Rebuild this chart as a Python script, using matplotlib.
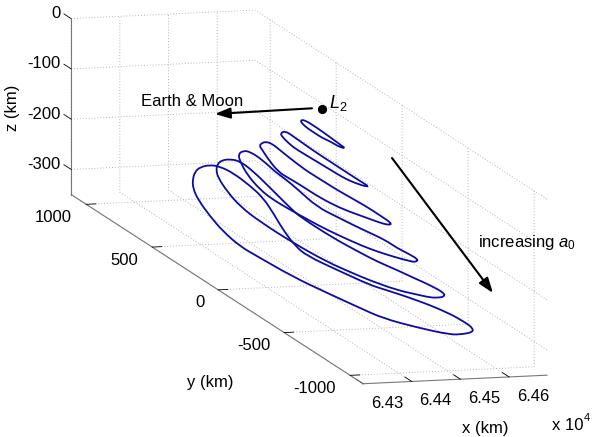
import matplotlib
matplotlib.use('Agg')
import matplotlib.pyplot as plt
from matplotlib.path import Path
from matplotlib.patches import PathPatch
from mpl_toolkits.mplot3d import proj3d

W, H = 592, 437

# tick values (km)
x_ticks = [64300, 64400, 64500, 64600]
x_labels = ['6.43', '6.44', '6.45', '6.46']
y_ticks = [-1000, -500, 0, 500, 1000]
y_labels = ['-1000', '-500', '0', '500', '1000']
z_ticks = [-300, -200, -100, 0]
z_labels = ['-300', '-200', '-100', '0']

# L2 point
l2_x, l2_y, l2_z = 64513, 0, 0

# orbits, smallest to largest: one x per orbit, y and z
orbit_x = [64514, 64518, 64521, 64526, 64530, 64534]

orbit1_y = [167, 136, 68, 0, -98, -152, -174, -129, -61, 0, 53, 106, 152]
orbit1_z = [-50.9, -44.8, -44.2, -44.9, -46.8, -48.3, -48.4, -53.5, -54.2, -57.5, -57.5, -57.5, -55.3]

orbit2_y = [333, 295, 220, 144, 68, -83, -159, -235, -295, -337, -303, -258, -197, -136, -61, 15, 91, 167, 227, 273, 318]
orbit2_z = [-105.2, -93.8, -94.9, -96.0, -97.1, -97.2, -97.3, -97.4, -97.1, -97.0, -101.8, -105.5, -109.8, -112.1,
            -113.0, -113.9, -114.8, -115.7, -116.1, -113.8, -109.6]

orbit3_y = [504, 481, 451, 405, 345, 284, 155, 95, 4, -87, -201, -314, -413, -504, -474, -398, -314, -208, -110, 42,
            193, 284, 360, 443, 481]
orbit3_z = [-159.1, -149.3, -142.2, -138.5, -141.1, -143.8, -147.8, -147.5, -147.0, -146.5, -144.1, -141.8, -142.0,
            -142.5, -150.6, -157.5, -163.7, -171.7, -178.5, -184.2, -184.1, -185.5, -186.5, -172.7, -163.3]

orbit4_y = [682, 644, 591, 500, 402, 326, 227, 83, -68, -197, -318, -432, -523, -606, -686, -659, -621, -545, -432,
            -318, -182, 8, 136, 288, 417, 515, 614, 667]
orbit4_z = [-206.4, -193.0, -186.0, -186.5, -193.7, -194.8, -200.0, -209.4, -203.6, -198.7, -193.0, -187.7, -188.2,
            -185.0, -183.5, -192.9, -197.4, -205.3, -215.6, -224.9, -233.1, -242.3, -246.2, -250.0, -252.0, -248.8,
            -235.6, -218.2]

orbit5_y = [864, 852, 818, 758, 682, 583, 455, 303, 227, -23, -205, -356, -508, -636, -758, -867, -864, -818,
            -758, -644, -508, -303, -152, 23, 280, 530, 682, 780, 849]
orbit5_z = [-268.3, -254.4, -241.6, -229.4, -220.5, -223.7, -234.7, -248.8, -253.9, -253.3, -248.3, -243.5, -234.7,
            -228.8, -222.2, -219.5, -227.1, -236.8, -246.7, -259.3, -274.5, -290.3, -299.1, -308.7, -314.6, -315.2,
            -310.4, -297.3, -281.6]

orbit6_y = [1057, 1038, 1000, 924, 849, 750, 621, 523, 447, 371, 280, 189, -38, -288, -386, -644, -871, -1008, -1068,
            -1064, -985, -894, -644, -386, -212, 38, 295, 561, 697, 826, 924, 1015, 1053]
orbit6_z = [-321.1, -302.0, -286.6, -269.2, -259.9, -255.7, -259.2, -266.4, -283.3, -304.3, -320.7, -325.2, -314.5,
            -302.0, -293.2, -271.5, -256.8, -253.6, -255.3, -263.9, -281.3, -297.7, -325.8, -351.5, -360.6, -373.1,
            -384.9, -390.1, -392.7, -384.7, -371.6, -353.8, -338.3]

orbits_y = [orbit1_y, orbit2_y, orbit3_y, orbit4_y, orbit5_y, orbit6_y]
orbits_z = [orbit1_z, orbit2_z, orbit3_z, orbit4_z, orbit5_z, orbit6_z]

plt.rcParams['font.family'] = 'Liberation Sans'
plt.rcParams['mathtext.fontset'] = 'custom'
plt.rcParams['mathtext.rm'] = 'Liberation Sans'
plt.rcParams['mathtext.it'] = 'Liberation Sans:italic'
plt.rcParams['font.size'] = 12
plt.rcParams['grid.color'] = '#b4b4b4'
plt.rcParams['grid.linestyle'] = (0, (1, 2))
plt.rcParams['grid.linewidth'] = 0.7


def fig_pos(px, py):
    # picture pixels (y down) to figure fractions
    return px / W, 1 - py / H


fig = plt.figure(figsize=(W / 100, H / 100), dpi=100)
ax = fig.add_axes([1 / W, -68 / H, 600 / W, 600 / H], projection='3d')
ax.set_proj_type('ortho')
ax.view_init(elev=10, azim=-105)
ax.set_box_aspect((190.5, 1128, 178.7), zoom=1.873)
ax.set_xlim(64300, 64678)
ax.set_ylim(-1098, 1114)
ax.set_zlim(-350, 0)
ax.set_xticks(x_ticks)
ax.set_yticks(y_ticks)
ax.set_zticks(z_ticks)
ax.set_xticklabels([])
ax.set_yticklabels([])
ax.set_zticklabels([])

# ticks of the z axis lie along y, as in the reference
ax.zaxis._get_tickdir = lambda pos: 1

for axis, out in ((ax.xaxis, 0.29), (ax.yaxis, 0.65), (ax.zaxis, 0.31)):
    axis.set_pane_color((1, 1, 1, 0))
    axis.pane.set_edgecolor((1, 1, 1, 0))
    axis.line.set_color('#777777')
    axis.line.set_linewidth(0.8)
    axis._axinfo['tick']['inward_factor'] = 0.0
    axis._axinfo['tick']['outward_factor'] = out
    axis._axinfo['tick']['color'] = '#555555'
    axis._axinfo['tick']['linewidth'] = {True: 0.6, False: 0.6}

ax.plot([l2_x], [l2_y], [l2_z], 'o', color='black', ms=5.6)

M = ax.get_proj()

# each orbit is a closed smooth path with the read points as control points
for x0, ys, zs in zip(orbit_x, orbits_y, orbits_z):
    u, v, _ = proj3d.proj_transform([x0] * len(ys), ys, zs, M)
    n = len(ys)
    verts = [((u[-1] + u[0]) / 2, (v[-1] + v[0]) / 2)]
    codes = [Path.MOVETO]
    for i in range(n):
        j = (i + 1) % n
        verts += [(u[i], v[i]), ((u[i] + u[j]) / 2, (v[i] + v[j]) / 2)]
        codes += [Path.CURVE3, Path.CURVE3]
    fig.add_artist(PathPatch(Path(verts, codes), fc='none', ec='#0c0ca4', lw=1.3, transform=ax.transData))


def tick_text(x, y, z, s, dx, dy, ha):
    # tick label placed from the tick's projected position
    u, v, _ = proj3d.proj_transform(x, y, z, M)
    ax.annotate(s, (u, v), xytext=(dx, -dy), textcoords='offset pixels', ha=ha, va='center', annotation_clip=False)


for t, s in zip(x_ticks, x_labels):
    tick_text(t, -1098, -350, s, 24, 19.5, 'center')
for t, s in zip(y_ticks, y_labels):
    tick_text(64300, t, -350, s, -14, 13, 'right')
for t, s in zip(z_ticks, z_labels):
    tick_text(64300, 1114, t, s, -11, -5, 'right')

# axis labels
fig.text(*fig_pos(13, 108), 'z (km)', rotation=90, ha='center', va='center')
fig.text(*fig_pos(210, 383), 'y (km)', ha='center', va='center')
fig.text(*fig_pos(485, 428), 'x (km)', ha='center', va='center')
fig.text(*fig_pos(552, 426), 'x 10', ha='left', va='center')
fig.text(*fig_pos(584, 418), '4', ha='left', va='center', fontsize=8)

# annotations
fig.text(*fig_pos(141, 101), 'Earth & Moon', ha='left', va='center')
fig.text(*fig_pos(329, 103), r'$\mathit{L}_{2}$', ha='left', va='center', fontsize=13)
fig.text(*fig_pos(478, 243), r'increasing $\mathit{a}_{0}$', ha='left', va='center')

for tail, tip in [((312, 108.3), (215, 114)), ((392, 158), (493, 293))]:
    ax.annotate('', xy=(tip[0], H - tip[1]), xytext=(tail[0], H - tail[1]),
                xycoords='figure pixels', textcoords='figure pixels',
                arrowprops=dict(arrowstyle='-|>,head_length=0.7,head_width=0.25', color='black', lw=1.5,
                                shrinkA=0, shrinkB=0, mutation_scale=13))

fig.savefig('out.png', dpi=100)
